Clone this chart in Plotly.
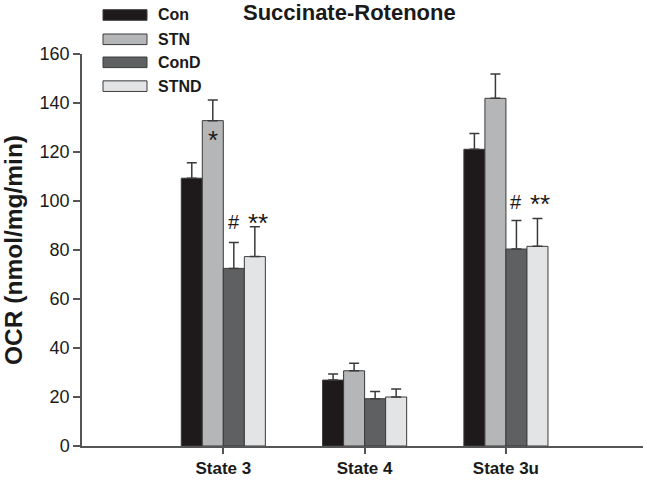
import plotly.graph_objects as go

categories = ["State 3", "State 4", "State 3u"]
series_names = ["Con", "STN", "ConD", "STND"]
con = [109.3, 26.9, 121.1]
stn = [132.8, 30.7, 141.9]
cond = [72.5, 19.3, 80.4]
stnd = [77.3, 20.0, 81.5]
con_err = [6.3, 2.5, 6.5]
stn_err = [8.4, 3.1, 9.9]
cond_err = [10.6, 2.9, 11.6]
stnd_err = [12.2, 3.3, 11.4]
y_ticks = [0, 20, 40, 60, 80, 100, 120, 140, 160]
# significance markers: (category index, series index, symbol, y value)
sig_marks = [(0, 1, "*", 127.3), (0, 2, "#", 91.6), (0, 3, "**", 93.5),
             (2, 2, "#", 99.4), (2, 3, "**", 101.2)]

values = [con, stn, cond, stnd]
errors = [con_err, stn_err, cond_err, stnd_err]
colors = ["#1e1a1b", "#b5b6b8", "#5e6062", "#e3e4e6"]

FONT = "Liberation Sans, Arial, sans-serif"
BARGAP = 0.405

fig = go.Figure()
for name, v, e, c in zip(series_names, values, errors, colors):
    fig.add_trace(go.Bar(
        x=categories, y=v, name=name,
        marker=dict(color=c, line=dict(color="#3a3a3a", width=1)),
        error_y=dict(type="data", symmetric=False, array=e,
                     arrayminus=[0] * len(e), color="#3a3a3a",
                     thickness=1.5, width=5),
        showlegend=False,
    ))

bar_w = (1 - BARGAP) / len(series_names)
for ci, si, sym, yv in sig_marks:
    xpos = ci + (si - 1.5) * bar_w
    if sym == "#":
        fig.add_annotation(x=xpos, y=yv, xref="x", yref="y", text=sym,
                           showarrow=False, yanchor="middle",
                           font=dict(family=FONT, size=20, color="#1a1a1a"))
    else:
        fig.add_annotation(x=xpos, y=yv, xref="x", yref="y", text=sym,
                           showarrow=False, yanchor="middle",
                           xshift=(3 if sym == "**" else 0), yshift=-6,
                           font=dict(family=FONT, size=26, color="#1a1a1a"))

# manual legend (paper coordinates above/at top of plot)
leg_y = [1.0995, 1.0375, 0.9788, 0.918]
for name, c, ly in zip(series_names, colors, leg_y):
    fig.add_shape(type="rect", xref="paper", yref="paper",
                  x0=(103 - 82) / 561, x1=(147 - 82) / 561,
                  y0=ly - 0.0135, y1=ly + 0.0135,
                  fillcolor=c, line=dict(color="#3a3a3a", width=1))
    fig.add_annotation(xref="paper", yref="paper", x=(156 - 82) / 561, y=ly,
                       text="<b>%s</b>" % name, showarrow=False,
                       xanchor="left", yanchor="middle",
                       font=dict(family=FONT, size=16, color="#1a1a1a"))

fig.add_annotation(xref="paper", yref="paper", x=(349 - 82) / 561, y=1.1046,
                   text="<b>Succinate-Rotenone</b>", showarrow=False,
                   xanchor="center", yanchor="middle",
                   font=dict(family=FONT, size=22, color="#1a1a1a"))

fig.update_layout(
    width=647, height=482,
    margin=dict(l=82, r=4, t=54, b=36),
    paper_bgcolor="white", plot_bgcolor="white",
    barmode="group", bargap=BARGAP, bargroupgap=0,
    font=dict(family=FONT, color="#1a1a1a"),
    xaxis=dict(type="category", range=[-1, 2.97], showline=True,
               linecolor="#555", linewidth=1.5, ticks="outside",
               ticklen=6, tickcolor="#555", tickwidth=1.5,
               tickfont=dict(family=FONT, size=17, color="#1a1a1a"),
               tickvals=categories,
               ticktext=["<b>%s</b>" % c for c in categories],
               showgrid=False, zeroline=False, automargin=False),
    yaxis=dict(range=[0, 160], tickvals=y_ticks, showline=True,
               linecolor="#555", linewidth=1.5, ticks="outside",
               ticklen=7, tickcolor="#555", tickwidth=1.5,
               tickfont=dict(family=FONT, size=18, color="#1a1a1a"),
               showgrid=False, zeroline=False, automargin=False,
               title=dict(text="<b>OCR (nmol/mg/min)</b>", standoff=10,
                          font=dict(family=FONT, size=24.5, color="#1a1a1a"))),
)

fig.write_html("out.html",
               config={"displayModeBar": False},
               post_script="document.body.style.margin='0';"
                           "document.body.style.padding='0';")
